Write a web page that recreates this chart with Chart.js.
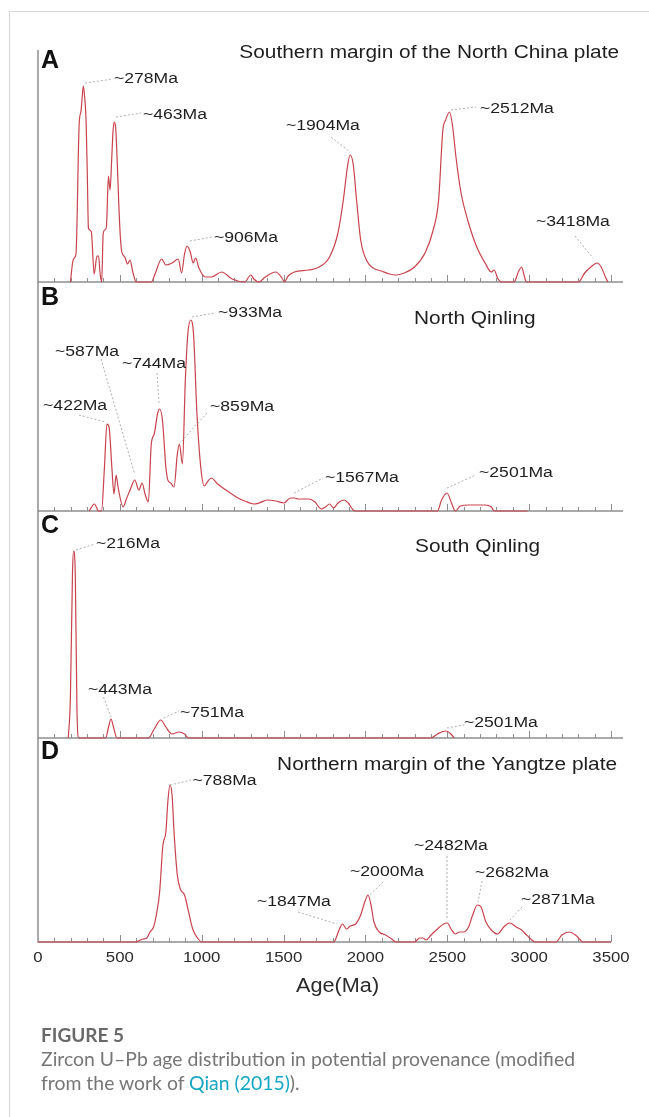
<!DOCTYPE html>
<html><head><meta charset="utf-8">
<script src="https://cdn.jsdelivr.net/npm/chart.js@4"></script>
<style>
html,body{margin:0;padding:0;background:#fff;}
body{width:649px;height:1117px;position:relative;overflow:hidden;}
#frame{position:absolute;left:9px;top:11px;width:640px;height:1106px;border-left:1px solid #d6d6d6;border-top:1px solid #d6d6d6;}
canvas{position:absolute;left:0;}
#cap{position:absolute;left:41px;top:1023px;width:600px;font-family:Lato,"Open Sans",sans-serif;color:#767676;}
#cap .t{font-weight:700;font-size:19px;line-height:24px;color:#696969;}
#cap .d{font-size:19.4px;line-height:23.5px;}
#cap a{color:#14a6c4;text-decoration:none;}
</style></head>
<body>
<div id="frame"></div>
<canvas id="cA" width="649" height="300" style="top:0px"></canvas>
<canvas id="cB" width="649" height="240" style="top:282px"></canvas>
<canvas id="cC" width="649" height="240" style="top:511px"></canvas>
<canvas id="cD" width="649" height="280" style="top:738px"></canvas>
<div id="cap"><div class="t">FIGURE 5</div><div class="d">Zircon U–Pb age distribution in potential provenance (modified<br>from the work of <a>Qian (2015)</a>).</div></div>
<script>
// ---------------- data ----------------
const panelLetters = ['A', 'B', 'C', 'D'];
const panelTitles = ['Southern margin of the North China plate', 'North Qinling', 'South Qinling', 'Northern margin of the Yangtze plate'];
const xTicks = [0, 500, 1000, 1500, 2000, 2500, 3000, 3500];
const xTitle = 'Age(Ma)';

const agesA = [198,212,222,232,252,262,270,277,285,294,302,308,316,326,343,360,370,379,389,398,408,418,430,440,450,458,465,474,484,493,503,512,530,547,562,579,600,692,717,755,781,818,857,877,895,910,930,948,963,983,1021,1059,1122,1186,1262,1300,1318,1350,1388,1452,1490,1505,1528,1566,1654,1718,1781,1832,1865,1890,1906,1925,1946,1971,2009,2047,2098,2148,2186,2237,2300,2364,2414,2447,2473,2490,2514,2533,2553,2584,2630,2680,2731,2769,2787,2807,2832,2908,2934,2954,2972,2984,3301,3339,3377,3415,3440,3466,3481];
const valsA = [0,20,24,28,160,170,185,196,185,160,100,54,52,50,8,26,26,9,0,48,52,55,106,92,122,150,160,155,120,80,45,30,25,18,22,10,0,0,9,23,17,19,23,9,28,36,30,19,24,14,5,5,10,3,0,7,3,0,5,10,4,0,6,10,12,15,25,49,82,115,127,118,82,42,21,14,11,8,7,9,15,29,52,82,152,162,170,155,125,89,59,35,19,10,12,4,0,0,10,15,5,0,0,9,15,19,15,5,0];

const agesB = [312,345,370,388,406,421,434,451,464,477,489,520,540,565,591,616,636,654,674,692,710,730,743,760,781,793,811,831,851,864,882,900,915,933,950,971,996,1016,1034,1059,1097,1148,1211,1262,1318,1350,1401,1452,1503,1541,1566,1591,1654,1692,1730,1756,1781,1806,1832,1870,1895,1925,1946,2440,2465,2498,2528,2549,2579,2630,2731,2769,2787,2990];
const valsB = [0,7,0,0,44,87,84,44,17,36,24,4,12,22,31,21,28,17,9,67,77,97,102,91,44,31,28,24,57,67,47,131,177,191,177,97,41,25,29,33,27,21,14,10,7,8,11,10,8,13,13,12,12,9,2,4,7,3,8,11,8,1,0,0,11,18,7,0,5,6,6,4,0,0];

const agesC = [185,198,211,218,228,238,249,413,431,446,461,482,674,710,750,781,818,862,895,920,2401,2440,2490,2528,2541];
const valsC = [0,41,168,187,161,28,0,0,11,19,11,0,0,9,18,11,4,6,4,0,0,4,7,3,0];

const agesD = [0,594,641,665,684,706,726,743,763,781,793,806,819,831,851,869,895,920,945,978,1003,1806,1839,1860,1885,1908,1940,1971,1996,2016,2034,2052,2085,2123,2161,2186,2300,2331,2351,2371,2401,2440,2478,2500,2523,2549,2574,2599,2630,2655,2684,2706,2736,2769,2807,2845,2880,2921,2954,2984,3010,3036,3164,3200,3245,3290,3328,3500];
const valsD = [0,0,3,4,10,15,30,50,97,110,140,157,147,110,67,53,47,30,13,3,0,0,12,18,13,16,18,27,40,47,37,20,10,7,3,0,0,4,4,2,7,13,18,19,13,8,10,10,15,27,37,35,20,12,8,15,19,15,12,7,3,0,0,7,10,6,0,0];

const peakLabelsA = ['~278Ma', '~463Ma', '~906Ma', '~1904Ma', '~2512Ma', '~3418Ma'];
const peakLabelsB = ['~933Ma', '~587Ma', '~744Ma', '~422Ma', '~859Ma', '~1567Ma', '~2501Ma'];
const peakLabelsC = ['~216Ma', '~443Ma', '~751Ma', '~2501Ma'];
const peakLabelsD = ['~788Ma', '~2482Ma', '~2000Ma', '~2682Ma', '~1847Ma', '~2871Ma'];

// ---------------- layout (data units: age, height) ----------------
// [labelAge, labelH, leaderAge1, leaderH1, leaderAge2, leaderH2]
const placeA = [[464,203,287,199,458,203],[641,167,476,165,629,169],[1075,44,928,41,1063,45],[1515,156,1790,145,1906,130],[2700,173,2523,172,2675,175],[3042,60,3280,46,3390,24]];
const placeB = [[1100,198,941,194,1081,198],[104,159,385,152,589,38],[513,147,727,138,739,108],[31,105,250,96,412,89],[1051,104,1032,98,867,68],[1753,33,1564,18,1741,33],[2694,38,2498,23,2675,36]];
const placeC = [[354,194,232,188,348,194],[305,48,400,41,446,21],[867,25,767,20,861,27],[2602,15,2498,10,2602,13]];
const placeD = [[944,161,806,157,935,162],[2297,96,2498,86,2498,24],[1906,70,2107,60,2026,47],[2669,69,2712,61,2688,40],[1338,40,1588,30,1826,18],[2950,42,2956,35,2883,22]];

const RED = '#c8434d';
const AXIS = '#8e8e8e';
const FONT = '"Liberation Sans", Arial, sans-serif';

function stretchText(ctx, txt, x, y, size, sx, align, weight, color) {
  ctx.save();
  ctx.font = (weight || 'normal') + ' ' + size + 'px ' + FONT;
  ctx.textBaseline = 'middle';
  ctx.textAlign = 'left';
  ctx.fillStyle = color || '#1e1e1e';
  const w = ctx.measureText(txt).width * sx;
  const left = align === 'right' ? x - w : (align === 'center' ? x - w / 2 : x);
  ctx.translate(left, y);
  ctx.scale(sx, 1);
  ctx.fillText(txt, 0, 0);
  ctx.restore();
}

const panelPlugin = {
  id: 'panel',
  beforeDatasetsDraw(chart, args, o) {
    const {ctx, chartArea: a, scales: {x}} = chart;
    ctx.save();
    ctx.strokeStyle = AXIS;
    ctx.lineWidth = 1.5;
    ctx.beginPath(); ctx.moveTo(a.left, a.top); ctx.lineTo(a.left, a.bottom + 0.75); ctx.stroke();
    ctx.beginPath(); ctx.moveTo(a.left, a.bottom); ctx.lineTo(a.right + o.extend, a.bottom); ctx.stroke();
    ctx.lineWidth = 1;
    for (let v = 100; v <= 3500; v += 100) {
      const px = Math.round(x.getPixelForValue(v)) + 0.5;
      const len = v % 500 === 0 ? 7 : 4;
      ctx.beginPath(); ctx.moveTo(px, a.bottom); ctx.lineTo(px, a.bottom - len); ctx.stroke();
    }
    ctx.restore();
  },
  afterDatasetsDraw(chart, args, o) {
    const {ctx, chartArea: a, scales: {x, y}} = chart;
    ctx.save();
    ctx.strokeStyle = '#9a9a9a';
    ctx.lineWidth = 0.8;
    ctx.setLineDash([2, 2]);
    o.place.forEach(p => {
      ctx.beginPath();
      ctx.moveTo(x.getPixelForValue(p[2]), y.getPixelForValue(p[3]));
      ctx.lineTo(x.getPixelForValue(p[4]), y.getPixelForValue(p[5]));
      ctx.stroke();
    });
    ctx.restore();
    o.labels.forEach((t, i) => {
      const p = o.place[i];
      stretchText(ctx, t, x.getPixelForValue(p[0]), y.getPixelForValue(p[1]), 15.3, 1.15, 'left');
    });
    stretchText(ctx, o.title, x.getPixelForValue(o.titlePos[0]), y.getPixelForValue(o.titlePos[1]), 17.5, 1.19, o.titleAlign);
    stretchText(ctx, o.letter, a.left + 3, a.top + o.letterDy, 25, 1, 'left', 'bold', '#111');
    if (o.bottom) {
      xTicks.forEach(v => {
        stretchText(ctx, String(v), x.getPixelForValue(v), a.bottom + 16, 14, 1.2, 'center', 'normal', '#2a2a2a');
      });
      stretchText(ctx, xTitle, x.getPixelForValue(1830), a.bottom + 45, 19.5, 1.11, 'center', 'normal', '#2a2a2a');
    }
  }
};

function makePanel(id, ages, vals, H, pad, opts) {
  const pts = ages.map((a, i) => ({x: a, y: vals[i]}));
  return new Chart(document.getElementById(id), {
    type: 'line',
    data: {datasets: [{data: pts, borderColor: RED, borderWidth: 1.2, pointRadius: 0, fill: false,
      cubicInterpolationMode: 'monotone', clip: false}]},
    options: {
      responsive: false, animation: false, devicePixelRatio: 1, events: [],
      layout: {padding: pad},
      scales: {x: {type: 'linear', min: 0, max: 3500, display: false},
               y: {min: 0, max: H, display: false}},
      plugins: {legend: {display: false}, tooltip: {enabled: false}, panel: opts}
    },
    plugins: [panelPlugin]
  });
}

makePanel('cA', agesA, valsA, 232, {left: 38, right: 38, top: 50, bottom: 18},
  {extend: 12, place: placeA, labels: peakLabelsA, title: panelTitles[0], titlePos: [3549, 229], titleAlign: 'right', letter: panelLetters[0], letterDy: 11, bottom: false});
makePanel('cB', agesB, valsB, 229, {left: 38, right: 38, top: 0, bottom: 11},
  {extend: 12, place: placeB, labels: peakLabelsB, title: panelTitles[1], titlePos: [2297, 192], titleAlign: 'left', letter: panelLetters[1], letterDy: 16, bottom: false});
makePanel('cC', agesC, valsC, 227, {left: 38, right: 38, top: 0, bottom: 13},
  {extend: 12, place: placeC, labels: peakLabelsC, title: panelTitles[2], titlePos: [2303, 191], titleAlign: 'left', letter: panelLetters[2], letterDy: 15, bottom: false});
makePanel('cD', agesD, valsD, 204, {left: 38, right: 38, top: 0, bottom: 76},
  {extend: 0, place: placeD, labels: peakLabelsD, title: panelTitles[3], titlePos: [3537, 177], titleAlign: 'right', letter: panelLetters[3], letterDy: 14, bottom: true});
</script>
</body></html>
